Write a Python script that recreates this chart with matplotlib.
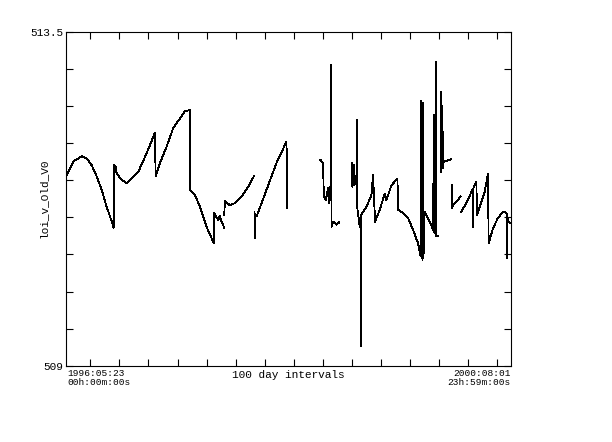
import numpy as np
import matplotlib
matplotlib.use("Agg")
import matplotlib.pyplot as plt

# ---- data (days since 1996-05-23 00:00, value) ; separate lists = data gaps ----
seg_a1_days = [0, 25.1, 54.0, 71.2, 88.4, 105.6, 122.8, 140.0, 151.4, 158.2, 162.7, 163.7, 165.1,
               165.8, 168.5, 170.2, 174.4, 191.6, 208.8, 226.0, 248.7, 271.8, 289.0, 306.2, 308.6,
               323.4, 346.4, 369.1, 392.2, 409.4, 426.6, 427.6, 443.8, 461.0, 484.0, 509.1, 510.2,
               523.9, 529.7, 535.6, 544.6]
seg_a1_vals = [511.55, 511.75, 511.82, 511.79, 511.70, 511.55, 511.37, 511.14, 511.01, 510.94, 510.86, 510.94, 510.86,
               511.70, 511.61, 511.69, 511.59, 511.50, 511.46, 511.52, 511.61, 511.81, 511.97, 512.14, 511.55,
               511.73, 511.95, 512.20, 512.33, 512.43, 512.44, 511.36, 511.30, 511.14, 510.87, 510.65, 511.06,
               510.96, 511.02, 510.94, 510.86]

seg_a2_days = [544.8, 547.0, 564.2, 581.4, 604.4, 627.1, 646.7]
seg_a2_vals = [511.03, 511.22, 511.16, 511.19, 511.28, 511.41, 511.55]

seg_a3_days = [649.1, 649.3, 651.0, 656.0, 690.4, 724.8, 759.2, 761.3]
seg_a3_vals = [511.07, 510.72, 511.04, 511.01, 511.37, 511.73, 512.02, 511.12]

seg_b_days = [876.2, 885.1, 887.5, 894.4, 902.3, 905.8, 908.2, 911.7, 913.4, 914.0, 919.5, 931.2, 940.2]
seg_b_vals = [511.77, 511.73, 511.28, 511.23, 511.39, 511.19, 511.41, 511.23, 513.05, 510.87, 510.94, 510.90, 510.93]

seg_c_days = [984.9, 985.6, 987.4, 990.7, 992.4, 994.2, 1002.1, 1002.3, 1003.0, 1011.4, 1014.8, 1015.0,
              1015.2, 1022.7, 1034.4, 1051.6, 1057.1, 1064.0, 1080.2, 1097.4, 1103.2, 1120.4, 1141.1, 1143.1,
              1160.3, 1177.5, 1194.7, 1211.9, 1221.2, 1222.3, 1224.0, 1225.7, 1227.5, 1229.2, 1230.9,
              1232.6, 1235.0, 1252.2, 1263.5, 1267.0, 1267.5, 1271.1, 1273.8, 1274.3, 1280.7]
seg_c_vals = [511.73, 511.41, 511.70, 511.43, 511.70, 511.47, 511.43, 512.31, 511.12, 510.87, 510.90, 509.27,
              511.03, 511.07, 511.14, 511.30, 511.57, 510.94, 511.10, 511.32, 511.23, 511.43, 511.52, 511.10,
              511.06, 510.99, 510.83, 510.65, 510.47, 512.56, 510.45, 512.51, 510.42, 512.54, 510.45,
              511.03, 511.07, 510.94, 510.83, 512.38, 510.80, 510.78, 513.09, 510.75, 510.75]

seg_d_days = [1290.3, 1291.3, 1293.0, 1294.6, 1295.6, 1297.0, 1298.0, 1300.3, 1309.6, 1326.8]
seg_d_vals = [512.69, 511.61, 512.51, 511.90, 512.47, 511.97, 511.66, 511.75, 511.76, 511.78]

seg_e_days = [1328.9, 1329.2, 1332.3, 1344.0, 1358.8]
seg_e_vals = [511.43, 511.12, 511.16, 511.21, 511.28]

seg_f_days = [1359.9, 1378.4, 1395.6, 1401.1, 1401.4, 1401.7, 1404.6, 1412.8, 1414.9, 1430.0, 1441.4,
              1452.7, 1455.1, 1469.9, 1487.1, 1504.3, 1512.6, 1517.0, 1517.4, 1517.8, 1523.9, 1530.8]
seg_f_vals = [511.07, 511.19, 511.34, 511.38, 510.86, 511.38, 511.41, 511.48, 511.03, 511.21, 511.34,
              511.59, 510.65, 510.85, 510.99, 511.07, 511.07, 511.05, 510.45, 511.03, 510.94, 510.92]

segments = [(seg_a1_days, seg_a1_vals), (seg_a2_days, seg_a2_vals), (seg_a3_days, seg_a3_vals),
            (seg_b_days, seg_b_vals), (seg_c_days, seg_c_vals), (seg_d_days, seg_d_vals),
            (seg_e_days, seg_e_vals), (seg_f_days, seg_f_vals)]

y_min, y_max = 509.0, 513.5
span_days = 1532
first_tick_day = 84
tick_interval_days = 100

y_label = "loi_v_Old_V0"
x_label = "100 day intervals"
start_label = "1996:05:23\n00h:00m:00s"
end_label = "2000:08:01\n23h:59m:00s"

# ---- figure ----
W, H = 612, 442
fig = plt.figure(figsize=(W / 100, H / 100), dpi=100)
fig.patch.set_facecolor("white")
ax = fig.add_axes([66 / W, 1 - 365.8 / H, 445 / W, 334.3 / H])

mono = "Liberation Mono"

for d, v in segments:
    ax.plot(d, v, color="black", lw=0.6, antialiased=False)

ax.set_xlim(0, span_days)
ax.set_ylim(y_min, y_max)

ax.set_xticks(np.arange(first_tick_day, span_days, tick_interval_days))
yt = np.arange(y_min, y_max + 0.01, 0.5)
ax.set_yticks(yt)
ylabels = ["" for _ in yt]
ylabels[0] = "509"
ylabels[-1] = "513.5"
ax.set_yticklabels(ylabels, fontfamily=mono, fontsize=8)

ax.tick_params(axis="both", direction="in", length=5, width=0.8, top=True, right=True,
               colors="black")
ax.tick_params(axis="x", labelbottom=False)
ax.tick_params(axis="y", pad=2)
for s in ax.spines.values():
    s.set_linewidth(0.8)
    s.set_color("black")

def ftext(x, y, s, **kw):
    fig.text(x / W, 1 - y / H, s, fontfamily=mono, **kw)

ftext(67, 378, start_label, fontsize=6.8, ha="left", va="center", linespacing=1.1)
ftext(511, 378, end_label, fontsize=6.8, ha="right", va="center", linespacing=1.1)
ftext(288.5, 375.5, x_label, fontsize=8, ha="center", va="center")
ftext(44, 198.5, y_label, fontsize=8, ha="center", va="center", rotation=90)

fig.savefig("out.png", dpi=100, facecolor="white")
